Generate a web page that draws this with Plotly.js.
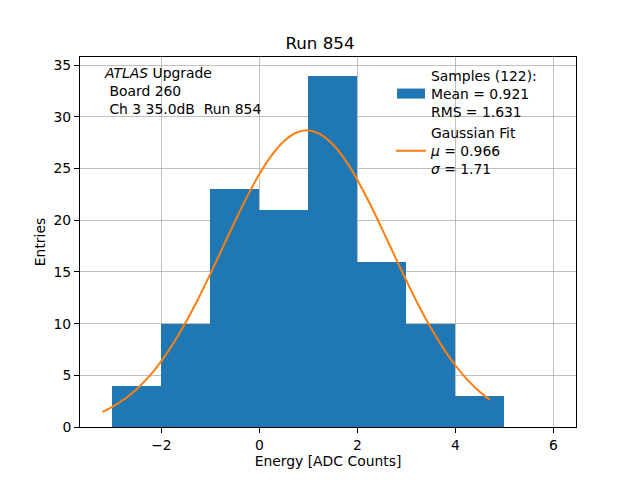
<!DOCTYPE html>
<html>
<head>
<meta charset="utf-8">
<script src="https://cdn.plot.ly/plotly-3.0.1.min.js"></script>
<style>html,body{margin:0;padding:0;background:#fff}#chart{width:640px;height:480px}</style>
</head>
<body>
<div id="chart"></div>
<script>
// Histogram bins (centers) and counts
const binCenters = [-2.5, -1.5, -0.5, 0.5, 1.5, 2.5, 3.5, 4.5, 5.5];
const binCounts  = [4, 10, 23, 21, 34, 16, 10, 3, 0];

// Gaussian fit curve
const fitX = [-3.2, -3.0, -2.75, -2.5, -2.25, -2.0, -1.75, -1.5, -1.25, -1.0, -0.75, -0.5, -0.25, 0.0, 0.25, 0.5, 0.75, 1.0, 1.25, 1.5, 1.75, 2.0, 2.25, 2.5, 2.75, 3.0, 3.25, 3.5, 3.75, 4.0, 4.25, 4.5, 4.7];
const fitY = [1.47, 1.95, 2.71, 3.68, 4.89, 6.38, 8.13, 10.15, 12.39, 14.82, 17.35, 19.87, 22.29, 24.47, 26.29, 27.66, 28.47, 28.7, 28.31, 27.33, 25.84, 23.91, 21.65, 19.19, 16.65, 14.15, 11.76, 9.57, 7.63, 5.95, 4.54, 3.39, 2.65];

const xTicks = [-2, 0, 2, 4, 6];
const yTicks = [0, 5, 10, 15, 20, 25, 30, 35];

const font = 'DejaVu Sans, sans-serif';

const traces = [
  {
    type: 'bar', x: binCenters, y: binCounts, width: 1,
    marker: {color: '#1f77b4', line: {width: 0}},
    name: 'Samples (122):<br>Mean = 0.921<br>RMS = 1.631'
  },
  {
    type: 'scatter', mode: 'lines', x: fitX, y: fitY,
    line: {color: '#ff7f0e', width: 2, shape: 'spline', smoothing: 1},
    name: 'Gaussian Fit<br><i>μ</i> = 0.966<br><i>σ</i> = 1.71'
  }
];

const axisCommon = {
  showline: true, linecolor: '#000', linewidth: 1, mirror: true,
  ticks: 'outside', ticklen: 5, tickwidth: 1, tickcolor: '#000',
  showgrid: true, gridcolor: '#b0b0b0', gridwidth: 0.8,
  zeroline: false, tickfont: {family: font, size: 13.9, color: '#000'}
};

const layout = {
  width: 640, height: 480,
  margin: {l: 80, r: 64, t: 57, b: 53},
  paper_bgcolor: '#fff', plot_bgcolor: '#fff',
  font: {family: font, color: '#000'},
  title: {text: 'Run 854', font: {family: font, size: 16.7, color: '#000'}, x: 0.5, xanchor: 'center', y: 0.91, yanchor: 'middle'},
  bargap: 0,
  xaxis: Object.assign({}, axisCommon, {
    range: [-3.66, 6.46], tickvals: xTicks, ticktext: xTicks.map(v => v < 0 ? '\u2212' + Math.abs(v) : String(v)),
    title: {text: 'Energy [ADC Counts]', font: {family: font, size: 13.9, color: '#000'}, standoff: 4}
  }),
  yaxis: Object.assign({}, axisCommon, {
    range: [0, 35.8], tickvals: yTicks,
    title: {text: 'Entries', font: {family: font, size: 13.9, color: '#000'}, standoff: 4}
  }),
  showlegend: true,
  legend: {
    x: 0.627, y: 0.992, xanchor: 'left', yanchor: 'top',
    bgcolor: 'rgba(0,0,0,0)', borderwidth: 0,
    font: {family: font, size: 13.9, color: '#000'},
    tracegroupgap: 4, itemwidth: 30
  },
  annotations: [{
    xref: 'paper', yref: 'paper', x: 0.045, y: 0.985, xanchor: 'left', yanchor: 'top',
    showarrow: false, align: 'left',
    text: '<i>ATLAS</i> Upgrade<br>\u00a0Board 260<br>\u00a0Ch 3 35.0dB\u00a0\u00a0Run 854',
    font: {family: font, size: 13.9, color: '#000'}
  }]
};

Plotly.newPlot('chart', traces, layout, {displayModeBar: false, staticPlot: true}).then(function (gd) {
  // widen the bar legend patch to matplotlib's rectangular patch shape
  gd.querySelectorAll('.legend .traces').forEach(function (t) {
    t.querySelectorAll('.legendpoints path').forEach(function (p) {
      var d = p.getAttribute('d') || '';
      if (/^M6,6H-6V-6H6Z$/.test(d.replace(/\s/g, ''))) {
        p.setAttribute('d', 'M14,5H-14V-5H14Z');
      }
    });
  });
});
</script>
</body>
</html>
